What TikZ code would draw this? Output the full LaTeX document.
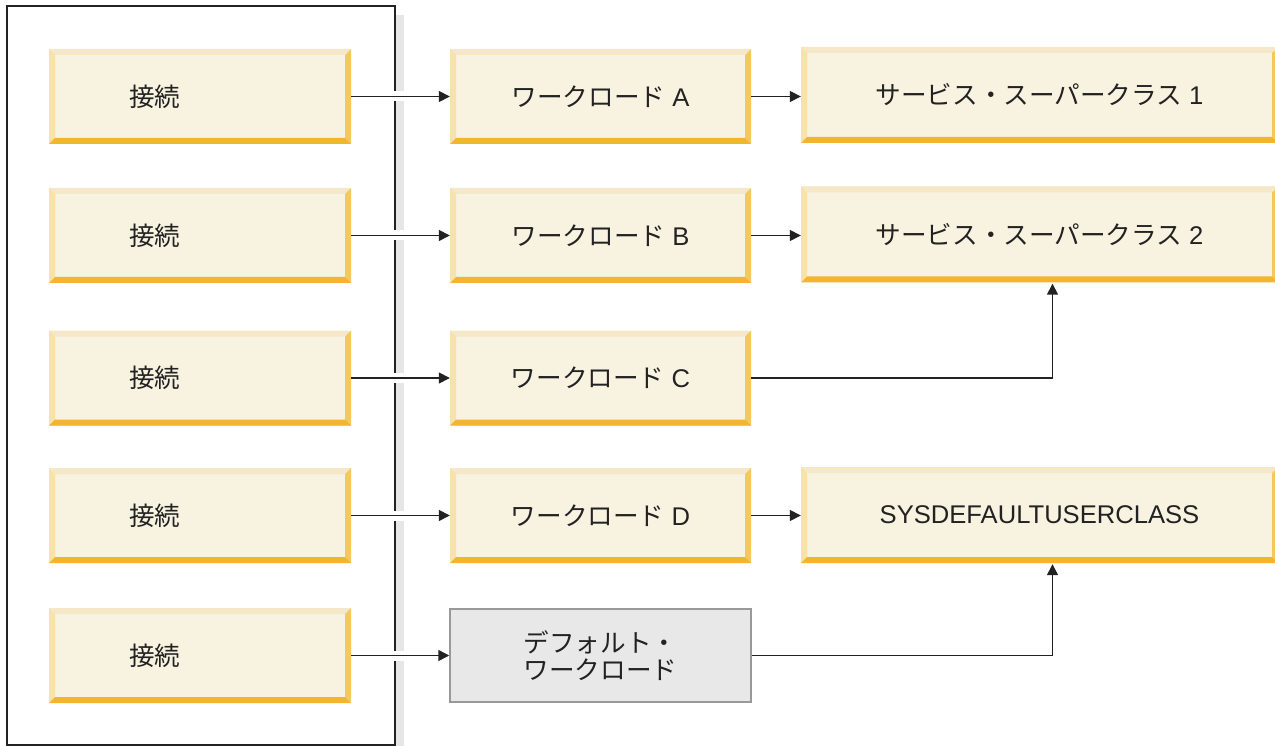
\documentclass[tikz,border=0pt]{standalone}
\usepackage{fontspec}
\setmainfont{Liberation Sans}
\newfontfamily\cjk{Noto Sans CJK JP}
\usetikzlibrary{arrows.meta,calc}
\definecolor{bvin}{HTML}{F8F2E0}
\definecolor{bvtop}{HTML}{F5E8C8}
\definecolor{bvleft}{HTML}{F7E2AA}
\definecolor{bvright}{HTML}{F5C85B}
\definecolor{bvbot}{HTML}{F3B42E}
\definecolor{txt}{HTML}{222222}
\definecolor{shadowgray}{HTML}{E6E6E6}
\definecolor{grayfill}{HTML}{E8E8E8}
\definecolor{grayline}{HTML}{999999}
\tikzset{
  bev/.style={rectangle, inner sep=0pt, fill=bvin, text=txt,
    font=\fontsize{25.6}{27}\selectfont,
    path picture={
      \path (path picture bounding box.north west) coordinate (bbnw)
            (path picture bounding box.south east) coordinate (bbse);
      \path (bbnw -| bbse) coordinate (bbne) (bbnw |- bbse) coordinate (bbsw);
      \fill[bvtop] (bbnw) -- (bbne) -- ($(bbne)+(-6pt,-6pt)$) -- ($(bbnw)+(6pt,-6pt)$) -- cycle;
      \fill[bvleft] (bbnw) -- ($(bbnw)+(6pt,-6pt)$) -- ($(bbsw)+(6pt,6pt)$) -- (bbsw) -- cycle;
      \fill[bvright] (bbne) -- (bbse) -- ($(bbse)+(-6pt,6pt)$) -- ($(bbne)+(-6pt,-6pt)$) -- cycle;
      \fill[bvbot] (bbsw) -- (bbse) -- ($(bbse)+(-6pt,6pt)$) -- ($(bbsw)+(6pt,6pt)$) -- cycle;
    }},
  connbox/.style={bev, minimum width=302pt, minimum height=95pt,
    text width=142pt, inner xsep=80pt, align=left},
  wlbox/.style={bev, minimum width=301pt, minimum height=95pt},
  scbox/.style={bev, minimum width=477pt, minimum height=96pt},
  dfbox/.style={rectangle, draw=grayline, line width=1.5pt, fill=grayfill, text=txt,
    minimum width=301pt, minimum height=93pt, align=center,
    font=\fontsize{25.6}{27}\selectfont},
  conn/.style={draw=txt, line width=1.5pt, -{Triangle[length=11pt,width=11pt]}},
  halo/.style={draw=white, line width=10pt},
}
\begin{document}
\begin{tikzpicture}[x=1pt,y=-1pt]
\useasboundingbox (0,0) rectangle (1275,746);
% frame and its shadow
\fill[shadowgray] (395,15) rectangle (404,746);
\draw[txt, line width=1.4pt] (7,6) rectangle (395,745);
% connection boxes
\node[connbox] (c1) at (200,96.5) {\cjk 接続};
\node[connbox] (c2) at (200,235.5) {\cjk 接続};
\node[connbox] (c3) at (200,378) {\cjk 接続};
\node[connbox] (c4) at (200,515.5) {\cjk 接続};
\node[connbox] (c5) at (200,655.5) {\cjk 接続};
% workloads
\node[wlbox] (w1) at (600.5,96.5) {{\cjk ワークロード} A};
\node[wlbox] (w2) at (600.5,235.5) {{\cjk ワークロード} B};
\node[wlbox] (w3) at (600.5,378) {{\cjk ワークロード} C};
\node[wlbox] (w4) at (600.5,515.5) {{\cjk ワークロード} D};
\node[dfbox] (w5) at (600.5,655.5) {\cjk デフォルト・\\\cjk ワークロード};
% service superclasses
\node[scbox] (s1) at (1039.5,95) {{\cjk サービス・スーパークラス} 1};
\node[scbox] (s2) at (1039.5,234.5) {{\cjk サービス・スーパークラス} 2};
\node[scbox] (s3) at (1039.5,515) {SYSDEFAULTUSERCLASS};
% gaps in the frame where the connectors cross it
\foreach \c in {c1,c2,c3,c4,c5}
  \draw[halo] ([xshift=42pt]\c.east) -- ([xshift=55pt]\c.east);
% connectors
\draw[conn] (c1.east) -- (c1.east -| w1.west);
\draw[conn] (c2.east) -- (c2.east -| w2.west);
\draw[conn] (c3.east) -- (c3.east -| w3.west);
\draw[conn] (c4.east) -- (c4.east -| w4.west);
\draw[conn] (c5.east) -- (c5.east -| w5.west);
\draw[conn] (w1.east) -- (w1.east -| s1.west);
\draw[conn] (w2.east) -- (w2.east -| s2.west);
\draw[conn] (w4.east) -- (w4.east -| s3.west);
\draw[conn, shorten >=1pt] (w3.east) -| ($(s2.south)+(13pt,0)$);
\draw[conn, shorten >=1pt] (w5.east) -| ($(s3.south)+(13pt,0)$);
\end{tikzpicture}
\end{document}
